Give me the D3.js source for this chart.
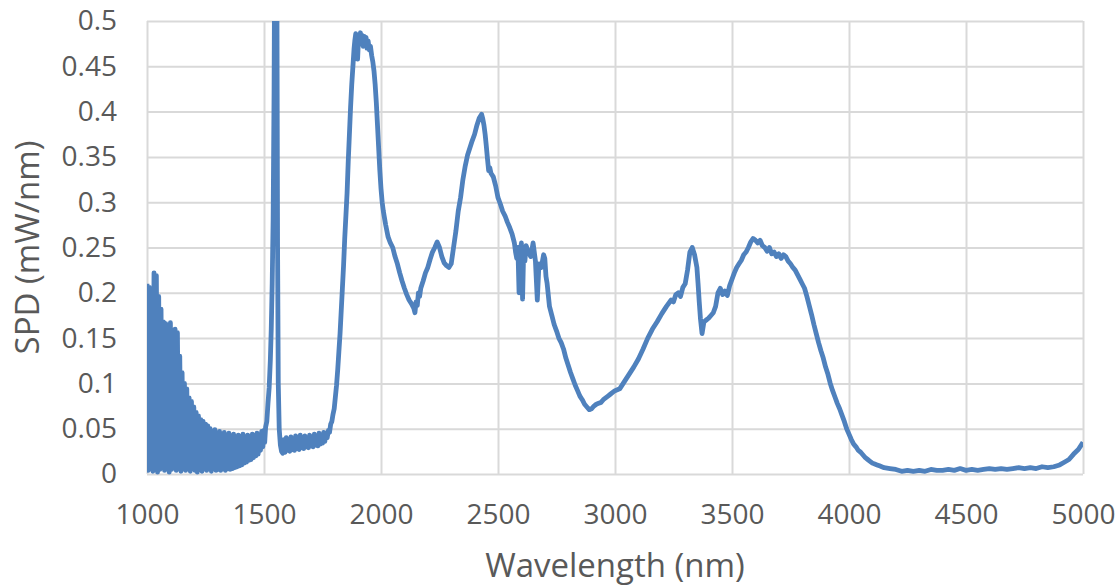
<!DOCTYPE html>
<html>
<head>
<meta charset="utf-8">
<script src="https://cdn.jsdelivr.net/npm/d3@7"></script>
<style>
  body { margin: 0; background: #fff; }
  .tick text { fill: #595959; font-family: "Open Sans", sans-serif; font-size: 28px; }
  .grid line { stroke: #d9d9d9; stroke-width: 2; }
</style>
</head>
<body>
<svg id="chart" width="1118" height="587"></svg>
<script>
// x ticks, y ticks and their labels
var xTicks = [1000, 1500, 2000, 2500, 3000, 3500, 4000, 4500, 5000];
var yTicks = [0, 0.05, 0.1, 0.15, 0.2, 0.25, 0.3, 0.35, 0.4, 0.45, 0.5];
var yTickLabels = ['0', '0.05', '0.1', '0.15', '0.2', '0.25', '0.3', '0.35', '0.4', '0.45', '0.5'];

// measured spectrum: [wavelength nm, SPD mW/nm]
var spectrum = [
  [1000,.210],[1005,.004],[1010,.206],[1015,.007],[1020,.200],[1025,.003],[1030,.222],[1035,.006],
  [1040,.219],[1045,.002],[1050,.196],[1055,.005],[1060,.182],[1065,.008],[1070,.168],[1075,.004],
  [1080,.166],[1085,.006],[1090,.163],[1095,.002],[1100,.167],[1105,.005],[1110,.135],[1115,.007],
  [1120,.160],[1125,.004],[1130,.156],[1135,.006],[1140,.130],[1145,.003],[1150,.112],[1155,.006],
  [1160,.100],[1165,.004],[1170,.094],[1175,.007],[1180,.084],[1185,.003],[1190,.080],[1195,.006],
  [1200,.074],[1205,.004],[1210,.068],[1215,.002],[1220,.064],[1225,.005],[1230,.060],[1235,.003],
  [1240,.058],[1245,.006],[1250,.055],[1255,.004],[1260,.053],[1265,.007],[1270,.050],[1275,.003],
  [1280,.047],[1285,.006],[1290,.049],[1295,.004],[1300,.045],[1305,.005],[1310,.047],[1315,.004],
  [1320,.043],[1325,.006],[1330,.046],[1335,.004],[1340,.042],[1345,.006],[1350,.045],[1355,.005],
  [1360,.041],[1365,.006],[1370,.044],[1375,.007],[1380,.040],[1385,.008],[1390,.043],[1395,.009],
  [1400,.041],[1405,.010],[1410,.044],[1415,.012],[1420,.040],[1425,.013],[1430,.043],[1435,.015],
  [1440,.041],[1445,.016],[1450,.044],[1455,.018],[1460,.042],[1465,.020],[1470,.045],[1475,.022],
  [1480,.043],[1485,.026],[1490,.047],[1495,.030],[1500,.048],
  [1503,.035],[1507,.052],[1512,.058],[1517,.078],[1522,.095],[1527,.125],[1531,.160],[1535,.210],
  [1539,.280],[1543,.420],[1546,.600],[1549,.800],[1552,.800],[1555,.550],[1558,.250],[1561,.100],
  [1565,.050],[1570,.032],[1575,.025],
  [1580,.023],[1585,.038],[1590,.024],[1595,.040],[1600,.026],[1605,.037],[1610,.025],[1615,.041],
  [1620,.027],[1625,.038],[1630,.026],[1635,.042],[1640,.028],[1645,.039],[1650,.027],[1655,.043],
  [1660,.029],[1665,.040],[1670,.028],[1675,.042],[1680,.030],[1685,.039],[1690,.029],[1695,.043],
  [1700,.031],[1705,.040],[1710,.030],[1715,.044],[1720,.032],[1725,.041],[1730,.031],[1735,.045],
  [1740,.033],[1745,.042],[1750,.034],[1755,.046],[1760,.036],[1765,.045],[1770,.040],[1775,.048],
  [1780,.046],[1785,.055],[1790,.058],[1795,.066],[1800,.072],[1805,.085],[1810,.098],[1815,.115],
  [1820,.135],[1825,.155],[1830,.180],[1835,.205],[1840,.230],[1845,.260],[1850,.285],[1855,.310],
  [1860,.345],[1865,.375],[1870,.405],[1875,.430],[1880,.450],[1885,.470],[1888,.478],[1892,.486],
  [1896,.470],[1900,.458],[1904,.482],[1908,.474],[1912,.487],[1916,.476],[1920,.484],[1924,.472],
  [1928,.483],[1932,.474],[1936,.482],[1940,.470],[1945,.478],[1950,.468],[1955,.472],[1960,.462],
  [1965,.455],[1970,.445],[1975,.430],[1980,.410],[1985,.385],[1990,.360],[1995,.335],[2000,.315],
  [2005,.300],[2010,.290],[2020,.275],[2030,.262],[2040,.255],[2050,.250],[2060,.240],[2070,.232],
  [2080,.222],[2090,.213],[2100,.205],[2110,.198],[2120,.192],[2130,.188],[2140,.183],[2145,.178],
  [2150,.190],[2155,.186],[2160,.200],[2165,.196],[2170,.205],[2180,.213],[2190,.222],[2200,.228],
  [2210,.237],[2220,.245],[2230,.250],[2240,.256],[2250,.250],[2260,.240],[2270,.233],[2280,.230],
  [2290,.228],[2300,.232],[2310,.250],[2320,.268],[2330,.290],[2340,.305],[2350,.325],[2360,.340],
  [2370,.352],[2380,.360],[2390,.368],[2400,.375],[2410,.385],[2420,.393],[2430,.397],[2435,.392],
  [2440,.385],[2445,.375],[2450,.362],[2455,.348],[2460,.335],[2465,.338],[2470,.332],[2480,.328],
  [2490,.318],[2500,.305],[2510,.298],[2520,.290],[2530,.285],[2540,.278],[2550,.272],[2560,.265],
  [2570,.255],[2575,.245],[2580,.238],[2585,.250],[2590,.200],[2595,.245],[2600,.255],[2605,.193],
  [2610,.250],[2615,.235],[2620,.252],[2630,.245],[2640,.240],[2650,.255],[2660,.235],[2668,.192],
  [2675,.232],[2685,.228],[2695,.242],[2700,.238],[2705,.218],[2710,.210],[2720,.185],[2730,.175],
  [2740,.165],[2750,.158],[2760,.150],[2770,.145],[2780,.138],[2790,.128],[2800,.120],[2810,.112],
  [2820,.105],[2830,.098],[2840,.092],[2850,.086],[2860,.082],[2870,.077],[2880,.074],[2890,.071],
  [2900,.072],[2910,.075],[2920,.077],[2930,.078],[2940,.079],[2950,.082],[2960,.084],[2970,.086],
  [2980,.088],[2990,.090],[3000,.092],[3020,.094],[3040,.102],[3060,.110],[3080,.118],[3100,.127],
  [3120,.138],[3140,.150],[3160,.160],[3180,.168],[3200,.177],[3220,.185],[3240,.192],[3250,.190],
  [3260,.198],[3270,.200],[3280,.196],[3290,.206],[3300,.210],[3310,.225],[3320,.245],[3330,.250],
  [3340,.242],[3350,.228],[3355,.210],[3360,.190],[3365,.172],[3372,.155],[3380,.168],[3390,.170],
  [3400,.172],[3410,.175],[3420,.178],[3430,.185],[3440,.200],[3450,.205],[3460,.198],[3470,.202],
  [3480,.197],[3490,.208],[3500,.215],[3510,.222],[3520,.228],[3530,.232],[3540,.236],[3550,.242],
  [3560,.245],[3570,.250],[3580,.256],[3590,.260],[3600,.258],[3610,.255],[3620,.258],[3630,.252],
  [3640,.250],[3650,.246],[3660,.250],[3670,.243],[3680,.245],[3690,.240],[3700,.243],[3710,.238],
  [3720,.242],[3730,.240],[3740,.235],[3750,.232],[3760,.228],[3770,.225],[3780,.220],[3790,.215],
  [3800,.210],[3810,.205],[3820,.196],[3830,.186],[3840,.176],[3850,.165],[3860,.155],[3870,.145],
  [3880,.136],[3890,.128],[3900,.118],[3910,.110],[3920,.100],[3930,.092],[3940,.085],[3950,.078],
  [3960,.072],[3970,.065],[3980,.058],[3990,.050],[4000,.044],[4010,.038],[4020,.033],[4030,.030],
  [4040,.026],[4050,.024],[4060,.021],[4070,.018],[4080,.016],[4090,.014],[4100,.012],[4110,.011],
  [4120,.010],[4130,.009],[4140,.008],[4150,.007],[4175,.006],[4200,.005],[4225,.003],[4250,.004],
  [4275,.003],[4300,.004],[4325,.003],[4350,.005],[4375,.004],[4400,.004],[4425,.005],[4450,.004],
  [4475,.006],[4500,.004],[4525,.005],[4550,.004],[4575,.005],[4600,.006],[4625,.005],[4650,.006],
  [4675,.005],[4700,.006],[4725,.007],[4750,.006],[4775,.007],[4800,.006],[4825,.008],[4850,.007],
  [4875,.008],[4900,.010],[4920,.013],[4940,.016],[4960,.022],[4980,.027],[5000,.035]
];

var margin = {top: 21, right: 35, bottom: 113, left: 147};
var svg = d3.select('#chart');
var width = 1118 - margin.left - margin.right;
var height = 587 - margin.top - margin.bottom;

var x = d3.scaleLinear().domain([1000, 5000]).range([0, width]);
var y = d3.scaleLinear().domain([0, 0.5]).range([height, 0]);

var g = svg.append('g').attr('transform', 'translate(' + margin.left + ',' + margin.top + ')');

// gridlines + labels
var yAxis = g.append('g')
  .attr('class', 'grid')
  .call(d3.axisLeft(y).tickValues(yTicks).tickSize(-width).tickPadding(30)
    .tickFormat(function (d, i) { return yTickLabels[i]; }));
yAxis.select('.domain').remove();

var xAxis = g.append('g')
  .attr('class', 'grid')
  .attr('transform', 'translate(0,' + height + ')')
  .call(d3.axisBottom(x).tickValues(xTicks).tickSize(-height).tickPadding(30).tickFormat(d3.format('d')));
xAxis.select('.domain').remove();

g.append('clipPath').attr('id', 'plot-clip')
  .append('rect').attr('x', 0).attr('y', 0).attr('width', width).attr('height', height + 6);

var line = d3.line()
  .x(function (d) { return x(d[0]); })
  .y(function (d) { return y(d[1]); });

g.append('path')
  .datum(spectrum)
  .attr('clip-path', 'url(#plot-clip)')
  .attr('fill', 'none')
  .attr('stroke', '#4f81bd')
  .attr('stroke-width', 4.8)
  .attr('stroke-linejoin', 'round')
  .attr('d', line);

// axis titles
svg.append('text')
  .attr('x', margin.left + width / 2)
  .attr('y', 577)
  .attr('text-anchor', 'middle')
  .attr('fill', '#595959')
  .style('font-family', '"Open Sans", sans-serif')
  .style('font-size', '33px')
  .text('Wavelength (nm)');

svg.append('text')
  .attr('transform', 'translate(39,' + (margin.top + height / 2) + ') rotate(-90)')
  .attr('text-anchor', 'middle')
  .attr('fill', '#595959')
  .style('font-family', '"Open Sans", sans-serif')
  .style('font-size', '33px')
  .text('SPD (mW/nm)');
</script>
</body>
</html>
